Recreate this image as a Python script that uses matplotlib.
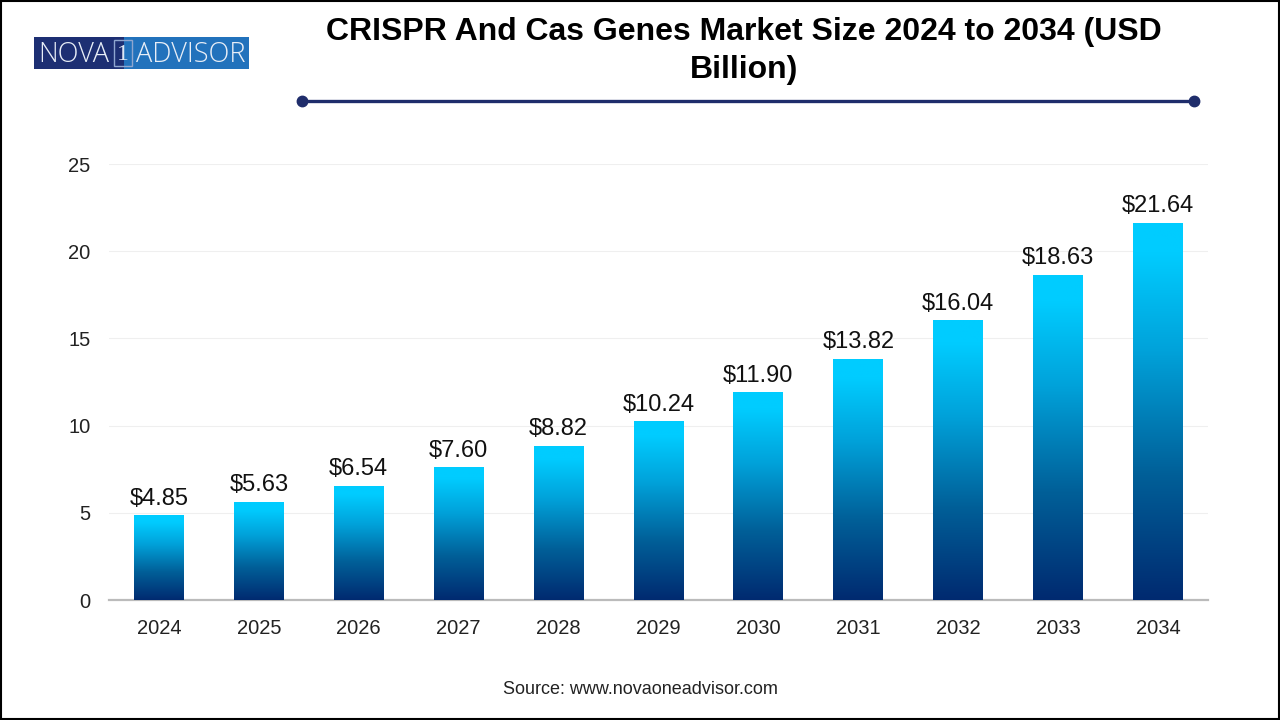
import numpy as np
import matplotlib
matplotlib.use("Agg")
import matplotlib.pyplot as plt
from matplotlib.colors import LinearSegmentedColormap
from matplotlib.patches import Rectangle

years = ["2024", "2025", "2026", "2027", "2028", "2029", "2030", "2031", "2032", "2033", "2034"]
values = [4.85, 5.63, 6.54, 7.60, 8.82, 10.24, 11.90, 13.82, 16.04, 18.63, 21.64]
y_ticks = [0, 5, 10, 15, 20, 25]

plt.rcParams["font.family"] = ["Liberation Sans", "DejaVu Sans"]

W, H = 1280, 720
fig = plt.figure(figsize=(W / 100, H / 100), dpi=100, facecolor="white")

# main chart, placed by pixel position
ax = fig.add_axes([109 / W, 1 - 600 / H, (1208 - 109) / W, (600 - 164) / H])

grad = LinearSegmentedColormap.from_list(
    "bars", [(0, "#002A70"), (0.33, "#005F98"), (0.66, "#00A2DA"), (0.92, "#00CCFF"), (1, "#00CCFF")])
ramp = np.linspace(0, 1, 256).reshape(-1, 1)

bars = ax.bar(range(len(years)), values, width=0.5, color="none", zorder=3)
for b, v in zip(bars, values):
    im = ax.imshow(ramp, cmap=grad, origin="lower", aspect="auto", zorder=3,
                   extent=[b.get_x(), b.get_x() + b.get_width(), 0, v])
    im.set_clip_path(b)
    ax.text(b.get_x() + b.get_width() / 2, v + 0.33, f"${v:.2f}",
            ha="center", va="bottom", fontsize=17, color="#111111", parse_math=False)
ax.set_xlim(-0.5, 10.5)
ax.set_ylim(0, 25)

ax.set_xticks(range(len(years)))
ax.set_xticklabels(years)
ax.set_yticks(y_ticks)
ax.tick_params(axis="both", length=0, labelsize=14.5, labelcolor="#222222")
ax.tick_params(axis="x", pad=13.7)
ax.tick_params(axis="y", pad=13.5)
ax.grid(axis="y", color="#EFEFEF", linewidth=0.8, zorder=0)
ax.set_axisbelow(True)
for s in ["top", "right", "left"]:
    ax.spines[s].set_visible(False)
ax.spines["bottom"].set_color("#BBBBBB")
ax.spines["bottom"].set_linewidth(1.6)

# overlay in pixel coordinates for title, logo, rule and border
ov = fig.add_axes([0, 0, 1, 1], facecolor="none")
ov.set_xlim(0, W)
ov.set_ylim(H, 0)
ov.axis("off")

ov.text(744, 32, "CRISPR And Cas Genes Market Size 2024 to 2034 (USD", ha="center", va="center",
        fontsize=23, fontweight="bold", color="black")
ov.text(744, 70, "Billion)", ha="center", va="center", fontsize=23, fontweight="bold", color="black")

ov.plot([302, 1194], [101, 101], color="#1F2D6B", linewidth=2.4, solid_capstyle="butt")
ov.plot([302, 1194], [101, 101], "o", color="#1F2D6B", markersize=7.5, linestyle="none")

ov.add_patch(Rectangle((34, 37), 90, 32, facecolor="#1D2F73", edgecolor="none"))
ov.add_patch(Rectangle((124, 37), 125, 32, facecolor="#2272BC", edgecolor="none"))
ov.add_patch(Rectangle((114, 40), 18, 26, facecolor="none", edgecolor="#8FA6CF", linewidth=1))
ov.text(38, 55, "NOVA", ha="left", va="center", fontsize=19.5, color="#E8EEF7", family="Open Sans", fontweight="light")
ov.text(123, 54, "1", ha="center", va="center", fontsize=17, color="#DDE6F3", family="Liberation Serif")
ov.text(136, 55, "ADVISOR", ha="left", va="center", fontsize=19.5, color="#E8EEF7", family="Open Sans", fontweight="light")

ov.text(640, 690, "Source: www.novaoneadvisor.com", ha="center", va="center", fontsize=13, color="#222222")

ov.add_patch(Rectangle((0.5, 0.5), W - 1.5, H - 1.5, facecolor="none", edgecolor="black", linewidth=1.5))

fig.savefig("out.png", dpi=100, facecolor="white")
